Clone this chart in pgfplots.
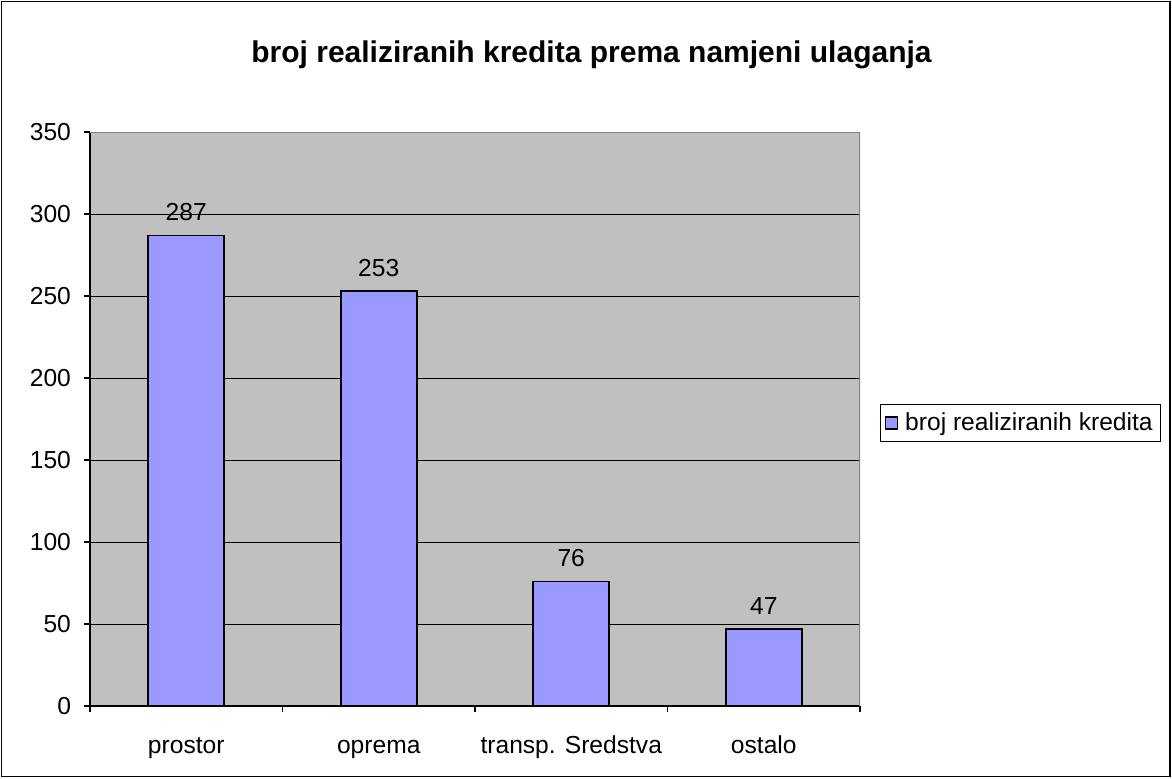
\documentclass[border=0pt]{standalone}
\usepackage{pgfplots}
\pgfplotsset{compat=1.18}
\usepackage{fontspec}
\setmainfont{Liberation Sans}
\definecolor{plotgray}{HTML}{C0C0C0}
\definecolor{barblue}{HTML}{9999FF}
\definecolor{framegray}{HTML}{808080}

\begin{document}
\begin{tikzpicture}
\useasboundingbox (0,0) rectangle (586pt,389pt);
\draw[black, line width=0.8pt] (0.8pt,0.8pt) rectangle (585pt,388.2pt);
\node[font=\fontsize{15}{18}\selectfont\bfseries] at (295.75pt,361.5pt)
  {broj realiziranih kredita prema namjeni ulaganja};

\begin{axis}[
  at={(45pt,36pt)}, anchor=south west,
  scale only axis, width=385pt, height=287pt,
  xmin=-0.5, xmax=3.5, ymin=0, ymax=350,
  axis background/.style={fill=plotgray},
  axis x line*=bottom, axis y line*=left,
  axis line style={-, black, line width=0.7pt},
  ytick={0,50,...,350},
  ymajorgrids, grid style={black, line width=0.5pt},
  tick align=outside, major tick length=3pt,
  tick style={black, line width=0.6pt},
  xtick={-0.5,0.5,1.5,2.5,3.5},
  x tick label as interval,
  xticklabels={prostor,oprema,transp. Sredstva,ostalo},
  xticklabel style={yshift=-8pt, text height=9pt, text depth=3pt},
  yticklabel style={xshift=-3pt},
  ticklabel style={font=\fontsize{12.3}{14}\selectfont, black},
  /pgf/number format/assume math mode=true,
  ybar, bar width=38pt,
  nodes near coords,
  every node near coord/.append style={font=\fontsize{12.3}{14}\selectfont, black, anchor=south, inner sep=0pt, yshift=7pt},
  legend style={at={(1.026,0.493)}, anchor=west, draw=black, line width=0.6pt, fill=white,
    font=\fontsize{12.3}{14}\selectfont, inner xsep=2pt, inner ysep=2pt},
  legend image code/.code={\draw[fill=barblue, draw=black, line width=0.6pt] (0pt,-3pt) rectangle (6pt,3pt);
    \path[draw=none, fill=none] (0pt,0pt) -- (8pt,0pt);},
]
\addplot[fill=barblue, draw=black, line width=0.8pt]
  coordinates {(0,287) (1,253) (2,76) (3,47)};
\addlegendentry{broj realiziranih kredita}
\draw[framegray, line width=0.6pt] (rel axis cs:0,1) -- (rel axis cs:1,1) -- (rel axis cs:1,0);
\end{axis}
\end{tikzpicture}
\end{document}
